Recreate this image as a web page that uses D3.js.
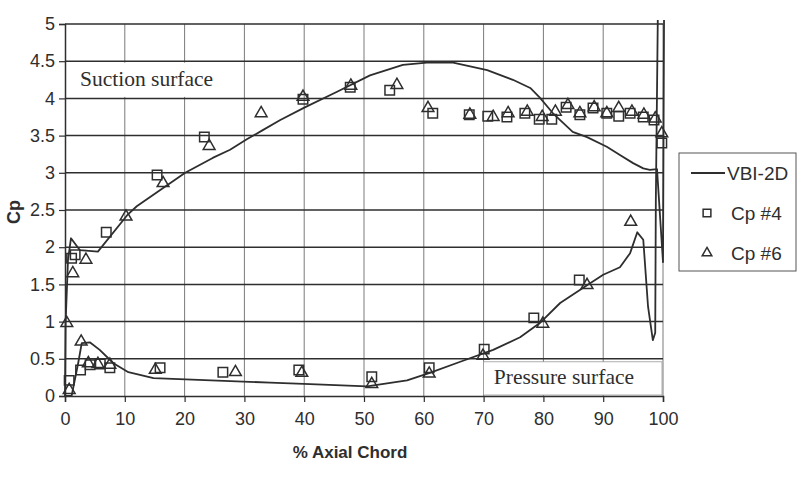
<!DOCTYPE html>
<html>
<head>
<meta charset="utf-8">
<script src="https://cdn.jsdelivr.net/npm/d3@7"></script>
<style>
  body { margin: 0; background: #fff; }
  svg { display: block; }
</style>
</head>
<body>
<div id="chart"></div>
<script>
// tick labels
const xTicks = [0, 10, 20, 30, 40, 50, 60, 70, 80, 90, 100]
const yTicks = [0, 0.5, 1, 1.5, 2, 2.5, 3, 3.5, 4, 4.5, 5]

// VBI-2D prediction, one closed loop: trailing edge -> pressure side -> leading edge -> suction side -> trailing edge
const vbiX = [99.2, 98.8, 98.7, 98.3, 97.5, 96.7, 95.7, 94.5, 92.8, 90.0, 87.3, 82.8, 79.4, 76.1, 71.6, 66.1, 61.0, 57.2, 50.5, 41.0, 34.3, 14.8, 10.6, 8.1, 5.8, 4.2, 2.8, 2.2, 1.1, 0.0,
  0.1, 0.5, 1.0, 2.5, 5.5, 10.4, 12.0, 20.1, 24.7, 27.6, 30.4, 33.0, 36.0, 40.1, 45.5, 51.0, 56.5, 60.5, 64.9, 70.6, 74.9, 77.8, 79.4, 81.6, 84.9, 87.3, 90.6, 92.8, 95.0, 96.7, 97.8, 99.0, 100.0, 100.2, 99.2]
const vbiCp = [5.6, 2.6, 0.85, 0.75, 1.2, 2.1, 2.2, 1.92, 1.73, 1.63, 1.49, 1.25, 0.98, 0.79, 0.62, 0.46, 0.31, 0.21, 0.13, 0.16, 0.18, 0.24, 0.32, 0.44, 0.62, 0.72, 0.71, 0.44, 0.0, 0.0,
  0.98, 1.83, 2.12, 1.96, 1.94, 2.43, 2.55, 3.0, 3.2, 3.31, 3.45, 3.57, 3.71, 3.88, 4.09, 4.31, 4.45, 4.48, 4.48, 4.38, 4.25, 4.14, 4.01, 3.80, 3.55, 3.48, 3.35, 3.24, 3.13, 3.06, 3.04, 3.05, 1.8, 5.6, 5.6]

// measured Cp #4 (squares)
const cp4X = [0.7, 1.1, 1.7, 2.6, 4.2, 5.9, 6.9, 7.5, 15.4, 15.9, 23.3, 26.4, 39.1, 39.8, 47.7, 51.3, 54.3, 60.9, 61.5, 67.6, 70.1, 70.7, 73.9, 76.9, 78.4, 79.3, 81.4, 83.8, 86.0, 86.1, 88.3, 90.6, 92.6, 94.5, 96.7, 98.5, 99.8]
const cp4 = [0.21, 1.85, 1.9, 0.35, 0.42, 0.43, 2.2, 0.38, 2.97, 0.38, 3.48, 0.32, 0.35, 3.99, 4.15, 0.26, 4.11, 0.38, 3.80, 3.78, 0.63, 3.76, 3.75, 3.80, 1.05, 3.72, 3.72, 3.88, 1.56, 3.78, 3.87, 3.80, 3.76, 3.80, 3.75, 3.71, 3.40]

// measured Cp #6 (triangles)
const cp6X = [0.3, 0.7, 1.3, 2.7, 3.5, 3.9, 5.5, 7.5, 10.2, 15.1, 16.4, 24.1, 28.5, 32.8, 39.6, 39.8, 47.8, 51.3, 55.5, 60.7, 60.9, 67.7, 69.9, 71.6, 74.1, 77.3, 79.8, 79.9, 82.0, 84.1, 86.1, 87.3, 88.5, 90.6, 92.6, 94.6, 94.8, 96.8, 98.7, 99.8]
const cp6 = [0.98, 0.08, 1.65, 0.73, 1.83, 0.44, 0.43, 0.42, 2.41, 0.35, 2.86, 3.36, 0.32, 3.80, 0.31, 4.02, 4.17, 0.16, 4.18, 3.87, 0.30, 3.78, 0.54, 3.75, 3.80, 3.82, 3.75, 0.97, 3.82, 3.91, 3.80, 1.49, 3.88, 3.80, 3.87, 2.34, 3.82, 3.78, 3.73, 3.53]

const ink = '#2e2e2e'
const W = 803, H = 478
const m = { left: 65, right: 140, top: 24, bottom: 82 }

const svg = d3.select('#chart').append('svg')
    .attr('width', W)
    .attr('height', H)

const x = d3.scaleLinear().domain([0, 100]).range([m.left, W - m.right])
const y = d3.scaleLinear().domain([0, 5]).range([H - m.bottom, m.top])

// gridlines
svg.append('g')
    .selectAll('line')
    .data(xTicks.slice(1))
    .join('line')
    .attr('x1', d => x(d)).attr('x2', d => x(d))
    .attr('y1', y(0)).attr('y2', y(5))
    .attr('stroke', '#7a7a7a')
    .attr('stroke-width', 1)

svg.append('g')
    .selectAll('line')
    .data(yTicks.slice(1))
    .join('line')
    .attr('x1', x(0)).attr('x2', x(100))
    .attr('y1', d => y(d)).attr('y2', d => y(d))
    .attr('stroke', '#2e2e2e')
    .attr('stroke-width', 1.5)

// label boxes (white boxes cover the grid)
svg.append('rect')
    .attr('x', x(0) + 1).attr('y', y(4.5) + 1.5)
    .attr('width', x(29) - x(0)).attr('height', y(4) - y(4.5) - 3)
    .attr('fill', '#fff')

svg.append('text')
    .attr('x', x(2.5)).attr('y', y(4.5) + 25)
    .attr('font-family', 'Liberation Serif, serif')
    .attr('font-size', 21.5)
    .attr('fill', ink)
    .text('Suction surface')

svg.append('rect')
    .attr('x', x(70.0)).attr('y', y(0.5) + 3)
    .attr('width', x(100) - x(70.0) - 1).attr('height', y(0) - y(0.5) - 4)
    .attr('fill', '#fff')
    .attr('stroke', '#999')
    .attr('stroke-width', 0.8)

svg.append('text')
    .attr('x', x(71.7)).attr('y', y(0.5) + 25)
    .attr('font-family', 'Liberation Serif, serif')
    .attr('font-size', 21.5)
    .attr('fill', ink)
    .text('Pressure surface')

// axes
const xAxis = svg.append('g')
    .attr('transform', `translate(0,${y(0)})`)
    .call(d3.axisBottom(x).tickValues(xTicks).tickSize(6).tickPadding(10).tickFormat(d3.format('d')))
const yAxis = svg.append('g')
    .attr('transform', `translate(${x(0)},0)`)
    .call(d3.axisLeft(y).tickValues(yTicks).tickSize(6).tickPadding(4).tickFormat(d => String(d)))

;[xAxis, yAxis].forEach(g => {
    g.select('.domain').attr('stroke', ink).attr('stroke-width', 1.5)
    g.selectAll('.tick line').attr('stroke', ink).attr('stroke-width', 1.2)
    g.selectAll('.tick text')
        .attr('fill', ink)
        .attr('font-family', 'Liberation Sans, Arial, sans-serif')
        .attr('font-size', 18)
})

svg.append('text')
    .attr('x', 350).attr('y', 458)
    .attr('text-anchor', 'middle')
    .attr('font-family', 'Liberation Sans, Arial, sans-serif')
    .attr('font-weight', 'bold')
    .attr('font-size', 17)
    .attr('fill', ink)
    .text('% Axial Chord')

svg.append('text')
    .attr('transform', `translate(20,${(y(0) + y(5)) / 2 + 2}) rotate(-90)`)
    .attr('text-anchor', 'middle')
    .attr('font-family', 'Liberation Sans, Arial, sans-serif')
    .attr('font-weight', 'bold')
    .attr('font-size', 18)
    .attr('fill', ink)
    .text('Cp')

// VBI-2D line, clipped a little above the top gridline
svg.append('clipPath').attr('id', 'clip')
    .append('rect')
    .attr('x', 0).attr('y', y(5) - 4)
    .attr('width', W).attr('height', y(0) - y(5) + 4)

const line = d3.line().x(d => x(d[0])).y(d => y(d[1]))
svg.append('path')
    .attr('clip-path', 'url(#clip)')
    .attr('d', line(d3.zip(vbiX, vbiCp)))
    .attr('fill', 'none')
    .attr('stroke', ink)
    .attr('stroke-width', 1.8)
    .attr('stroke-linejoin', 'round')

// markers
const sq = d3.symbol().type(d3.symbolSquare).size(90)
const tri = d3.symbol().type(d3.symbolTriangle).size(60)

svg.append('g')
    .selectAll('path')
    .data(d3.zip(cp4X, cp4))
    .join('path')
    .attr('transform', d => `translate(${x(d[0])},${y(d[1])})`)
    .attr('d', sq)
    .attr('fill', 'none')
    .attr('stroke', ink)
    .attr('stroke-width', 1.5)

svg.append('g')
    .selectAll('path')
    .data(d3.zip(cp6X, cp6))
    .join('path')
    .attr('transform', d => `translate(${x(d[0])},${y(d[1])})`)
    .attr('d', tri)
    .attr('fill', 'none')
    .attr('stroke', ink)
    .attr('stroke-width', 1.5)

// legend
const lg = svg.append('g').attr('transform', 'translate(679,153)')
lg.append('rect')
    .attr('width', 117).attr('height', 118)
    .attr('fill', '#fff')
    .attr('stroke', '#555')
    .attr('stroke-width', 1)

const legendItems = ['VBI-2D', 'Cp #4', 'Cp #6']
legendItems.forEach((name, i) => {
    const cy = 20 + i * 40
    if (i === 0) {
        lg.append('line')
            .attr('x1', 12).attr('x2', 46)
            .attr('y1', cy).attr('y2', cy)
            .attr('stroke', ink).attr('stroke-width', 1.8)
    } else {
        lg.append('path')
            .attr('transform', `translate(28,${cy})`)
            .attr('d', i === 1 ? d3.symbol().type(d3.symbolSquare).size(60)() : d3.symbol().type(d3.symbolTriangle).size(40)())
            .attr('fill', 'none')
            .attr('stroke', ink)
            .attr('stroke-width', 1.5)
    }
    lg.append('text')
        .attr('x', i === 0 ? 48 : 52).attr('y', cy)
        .attr('dy', '0.35em')
        .attr('font-family', 'Liberation Sans, Arial, sans-serif')
        .attr('font-size', 19)
        .attr('fill', ink)
        .text(name)
})
</script>
</body>
</html>
